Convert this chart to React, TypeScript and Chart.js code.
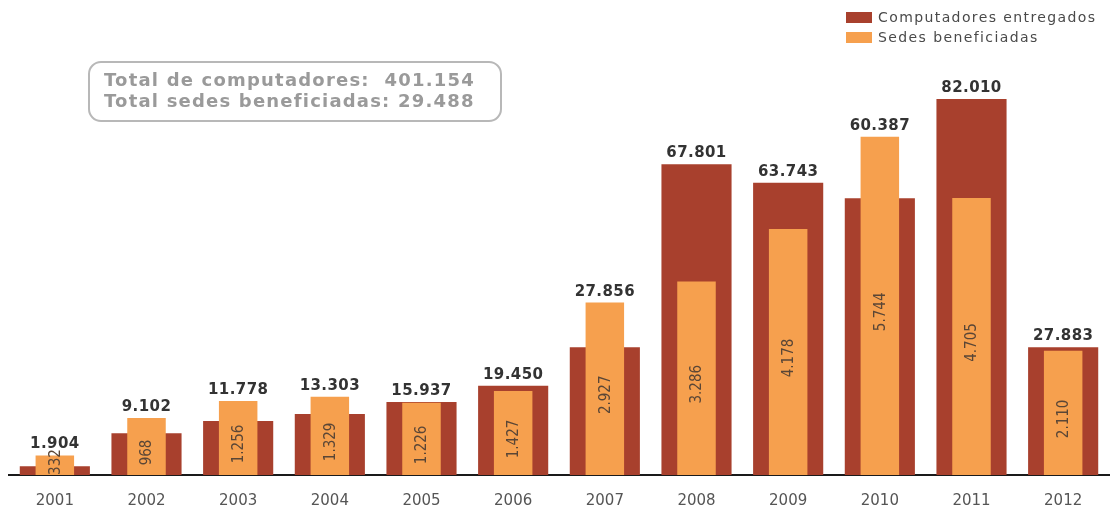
import React, { useEffect, useRef } from "react";
import { Chart, registerables } from "chart.js";

Chart.register(...registerables);

const years = ["2001", "2002", "2003", "2004", "2005", "2006", "2007", "2008", "2009", "2010", "2011", "2012"];
const computadores = [1904, 9102, 11778, 13303, 15937, 19450, 27856, 67801, 63743, 60387, 82010, 27883];
const sedes = [332, 968, 1256, 1329, 1226, 1427, 2927, 3286, 4178, 5744, 4705, 2110];
const seriesNames = ["Computadores entregados", "Sedes beneficiadas"];
const totalLines = ["Total de computadores:  401.154", "Total sedes beneficiadas: 29.488"];

const RED = "#A8402D";
const ORANGE = "#F6A04E";

const fmt = (n: number) => String(n).replace(/\B(?=(\d{3})+(?!\d))/g, ".");

const overlayPlugin = {
  id: "overlay",
  afterDatasetsDraw(chart: any) {
    const ctx = chart.ctx;
    const redMeta = chart.getDatasetMeta(0);
    const orMeta = chart.getDatasetMeta(1);
    const base = chart.chartArea.bottom;
    ctx.save();
    // value labels above the taller bar
    ctx.font = "bold 15px 'DejaVu Sans'";
    (ctx as any).letterSpacing = "0.4px";
    ctx.fillStyle = "#333333";
    ctx.textAlign = "center";
    ctx.textBaseline = "alphabetic";
    redMeta.data.forEach((bar: any, i: number) => {
      const o = orMeta.data[i];
      const top = Math.min(bar.y, o.y);
      ctx.fillText(fmt(computadores[i]), bar.x, top - 7);
    });
    (ctx as any).letterSpacing = "0px";
    // rotated labels inside the orange bars
    ctx.font = "15px 'DejaVu Sans Condensed', 'DejaVu Sans'";
    ctx.fillStyle = "#5a4636";
    ctx.textBaseline = "middle";
    orMeta.data.forEach((bar: any, i: number) => {
      const cy = Math.min((bar.y + base) / 2 + 6, base - 13);
      ctx.save();
      ctx.translate(bar.x, cy);
      ctx.rotate(-Math.PI / 2);
      ctx.fillText(fmt(sedes[i]), 0, 1);
      ctx.restore();
    });
    ctx.restore();
  },
  afterDraw(chart: any) {
    const ctx = chart.ctx;
    ctx.save();
    // legend
    const colors = [RED, ORANGE];
    ctx.font = "14px 'DejaVu Sans'";
    (ctx as any).letterSpacing = "1.4px";
    ctx.textAlign = "left";
    ctx.textBaseline = "middle";
    seriesNames.forEach((name, i) => {
      const y = 12 + i * 20;
      ctx.fillStyle = colors[i];
      ctx.fillRect(846, y, 26, 11);
      ctx.fillStyle = "#4a4a4a";
      ctx.fillText(name, 878, y + 6);
    });
    // totals box
    (ctx as any).letterSpacing = "0px";
    ctx.strokeStyle = "#b8b8b8";
    ctx.lineWidth = 2;
    ctx.beginPath();
    (ctx as any).roundRect(89, 62, 412, 59, 12);
    ctx.stroke();
    ctx.font = "bold 18px 'DejaVu Sans'";
    (ctx as any).letterSpacing = "1.2px";
    ctx.fillStyle = "#9a9a9a";
    ctx.fillText(totalLines[0], 104, 81);
    ctx.fillText(totalLines[1], 104, 102);
    ctx.restore();
  },
};

export default function App() {
  const ref = useRef<HTMLCanvasElement>(null);
  useEffect(() => {
    if (!ref.current) return;
    const chart = new Chart(ref.current, {
      type: "bar",
      data: {
        labels: years,
        datasets: [
          {
            label: seriesNames[0],
            data: computadores,
            backgroundColor: RED,
            yAxisID: "y",
            grouped: false,
            order: 2,
            barPercentage: 0.765,
            categoryPercentage: 1,
          },
          {
            label: seriesNames[1],
            data: sedes,
            backgroundColor: ORANGE,
            yAxisID: "y2",
            grouped: false,
            order: 1,
            barPercentage: 0.42,
            categoryPercentage: 1,
          },
        ],
      },
      options: {
        responsive: false,
        animation: false,
        layout: { padding: { top: 60, left: 9, right: 2, bottom: 0 } },
        plugins: { legend: { display: false }, tooltip: { enabled: false } },
        scales: {
          x: {
            grid: { display: false },
            border: { display: true, color: "#1a1a1a", width: 2 },
            ticks: { color: "#555555", font: { family: "'DejaVu Sans'", size: 15 }, padding: 9 },
            afterFit: (s: any) => {
              s.height = 36;
            },
          },
          y: { display: false, min: 0, max: 90530 },
          y2: { display: false, min: 0, max: 7046, position: "right" },
        },
      },
      plugins: [overlayPlugin],
    });
    return () => chart.destroy();
  }, []);
  return (
    <div style={{ position: "fixed", left: 0, top: 0, width: 1111, height: 511, background: "#fff" }}>
      <canvas ref={ref} width={1111} height={511} />
    </div>
  );
}
